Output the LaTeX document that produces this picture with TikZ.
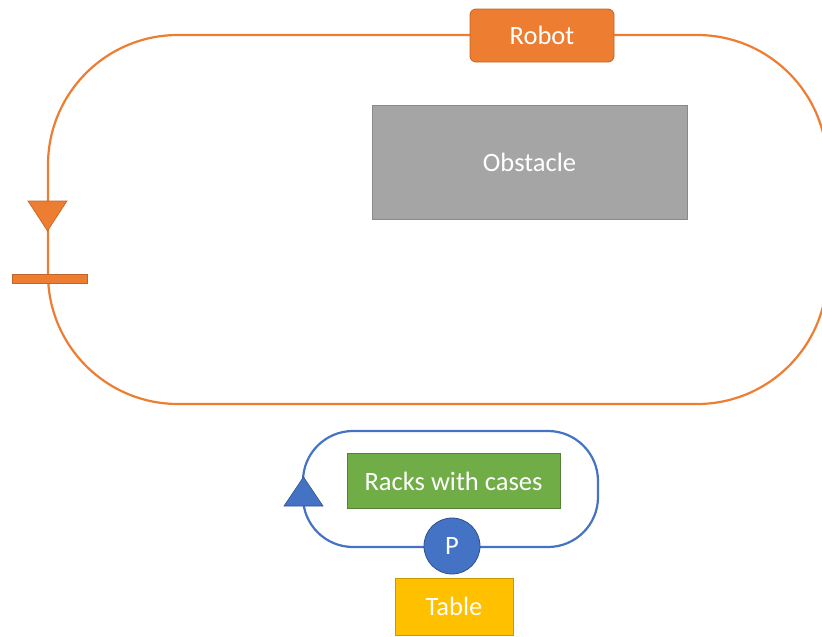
\documentclass[tikz,border=0pt]{standalone}
\usepackage{fontspec}
\setmainfont{Carlito}
\definecolor{orng}{HTML}{ED7D31}
\definecolor{orngd}{HTML}{C0652A}
\definecolor{gry}{HTML}{A5A5A5}
\definecolor{gryd}{HTML}{8A8A8A}
\definecolor{grn}{HTML}{70AD47}
\definecolor{grnd}{HTML}{548235}
\definecolor{blu}{HTML}{4472C4}
\definecolor{blud}{HTML}{2F528F}
\definecolor{yel}{HTML}{FFC000}
\definecolor{yeld}{HTML}{C99A00}
\tikzset{
  box/.style={draw, line width=0.8pt, text=white, font=\fontsize{26.5}{30}\selectfont, inner sep=0pt, anchor=center},
  orangeline/.style={draw=orng, line width=2.2pt},
  blueline/.style={draw=blu, line width=2.2pt},
}
\begin{document}
\begin{tikzpicture}[x=1pt,y=-1pt]
\useasboundingbox (0,0) rectangle (822,637);
\begin{scope}
\clip (0,0) rectangle (822,637);
% orange loop
\draw[orangeline, rounded corners=130] (48,35) rectangle (827,404);
\end{scope}
% robot
\node[box, fill=orng, draw=orngd, rounded corners=6, minimum width=144, minimum height=53] (robot) at (542,35.5) {Robot};
% obstacle
\node[box, fill=gry, draw=gryd, minimum width=315, minimum height=114] (obstacle) at (529.5,162) {Obstacle};
% orange triangle and bar
\filldraw[fill=orng, draw=orngd, line width=0.6pt] (28,201) -- (67,201) -- (47.5,231) -- cycle;
\filldraw[fill=orng, draw=orngd, line width=0.6pt] (12,274) rectangle (87,283);
% blue loop
\draw[blueline, rounded corners=50] (303,431) rectangle (598,547);
% blue triangle
\filldraw[fill=blu, draw=blud, line width=0.6pt] (284,506) -- (323,506) -- (303.5,477) -- cycle;
% racks
\node[box, fill=grn, draw=grnd, minimum width=213, minimum height=55] (racks) at (453.5,481) {Racks with cases};
% P
\node[box, circle, fill=blu, draw=blud, minimum size=56] (p) at (452,546) {P};
% table
\node[box, fill=yel, draw=yeld, minimum width=118, minimum height=57] (table) at (454,606.5) {Table};
\end{tikzpicture}
\end{document}
